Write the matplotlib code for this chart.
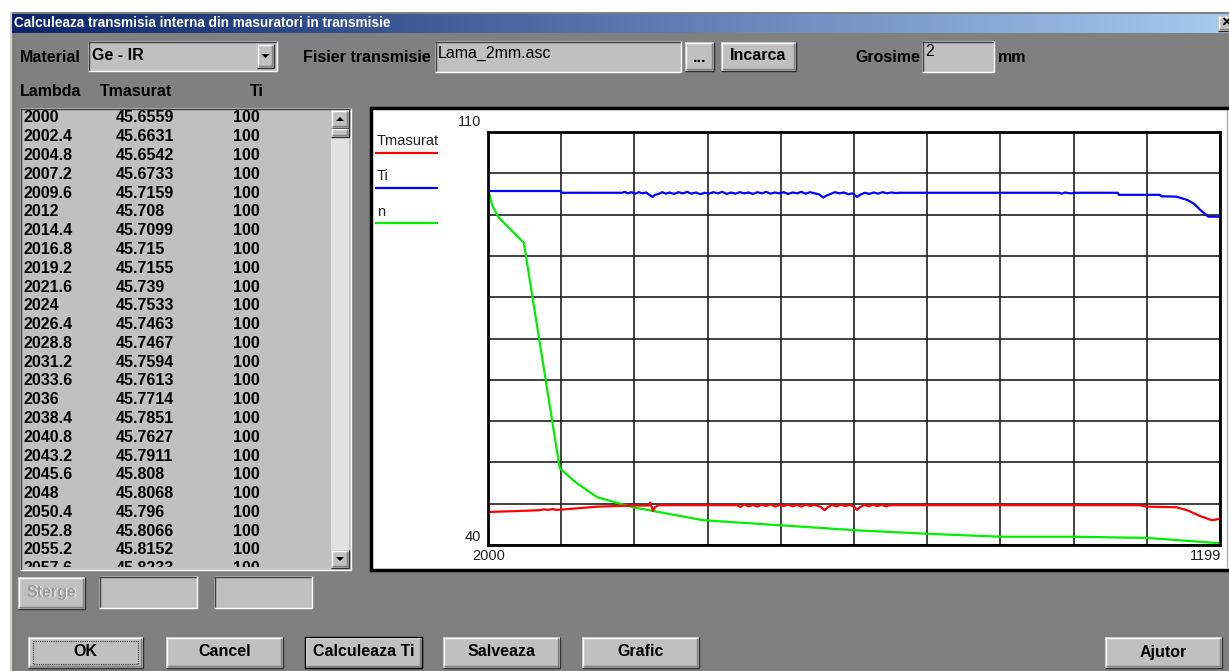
import numpy as np
import matplotlib.pyplot as plt
from matplotlib.patches import Rectangle, Polygon
from matplotlib.colors import LinearSegmentedColormap

W, H = 1229, 671
FONT = ['Liberation Sans', 'DejaVu Sans']

# list box contents (as shown in the dialog)
lambda_rows = ['2000', '2002.4', '2004.8', '2007.2', '2009.6', '2012', '2014.4',
               '2016.8', '2019.2', '2021.6', '2024', '2026.4', '2028.8', '2031.2',
               '2033.6', '2036', '2038.4', '2040.8', '2043.2', '2045.6', '2048',
               '2050.4', '2052.8', '2055.2', '2057.6']
tmas_rows = ['45.6559', '45.6631', '45.6542', '45.6733', '45.7159', '45.708', '45.7099',
             '45.715', '45.7155', '45.739', '45.7533', '45.7463', '45.7467', '45.7594',
             '45.7613', '45.7714', '45.7851', '45.7627', '45.7911', '45.808', '45.8068',
             '45.796', '45.8066', '45.8152', '45.8233']
ti_rows = ['100', '100', '100', '100', '100', '100', '100', '100', '100', '100', '100',
           '100', '100', '100', '100', '100', '100', '100', '100', '100', '100', '100',
           '100', '100', '100']

# chart series
tm_lam = [2000, 2400, 2700, 2760, 2820, 2880, 2940, 3000, 3500, 4000, 4200, 4215, 4240,
          4254, 4280, 4330, 5400, 5450, 5500, 5560, 5620, 5680, 5740, 5800, 5860, 5920,
          5980, 6040, 6100, 6160, 6220, 6280, 6340, 6400, 6460, 6540, 6600, 6640, 6700,
          6760, 6820, 6880, 6940, 7000, 7040, 7080, 7140, 7200, 7260, 7320, 7380, 7440,
          7490, 10900, 11000, 11400, 11550, 11730, 11890, 12000]
tm_val = [45.6, 45.75, 45.9, 46.05, 45.95, 46.1, 45.95, 46.0, 46.5, 46.7, 46.7, 47.2, 46.3,
          45.8, 46.4, 46.75, 46.75, 46.45, 46.9, 46.55, 46.8, 46.5, 46.85, 46.6, 46.9, 46.5,
          46.8, 46.6, 46.85, 46.55, 46.8, 46.5, 46.85, 46.6, 46.8, 46.5, 45.9, 46.4, 46.8,
          46.55, 46.85, 46.6, 46.8, 46.5, 45.95, 46.4, 46.8, 46.55, 46.85, 46.6, 46.8, 46.55,
          46.75, 46.75, 46.5, 46.4, 45.9, 44.9, 44.2, 44.45]

ti_lam = [2000, 2990, 3010, 3830, 3870, 3910, 3960, 4010, 4060, 4110, 4160, 4210, 4250,
          4280, 4330, 4380, 4430, 4480, 4540, 4600, 4660, 4720, 4780, 4840, 4900, 4960,
          5020, 5080, 5140, 5200, 5260, 5320, 5380, 5440, 5500, 5560, 5620, 5680, 5740,
          5800, 5860, 5920, 5980, 6040, 6100, 6160, 6220, 6280, 6340, 6400, 6460, 6520,
          6580, 6620, 6680, 6740, 6800, 6860, 6920, 6980, 7040, 7090, 7150, 7210, 7270,
          7330, 7390, 7450, 7510, 7570, 7620, 9800, 9840, 9880, 9960, 10020, 10600, 10620,
          11180, 11200, 11400, 11550, 11650, 11730, 11840, 12000]
ti_val = [100.0, 100.0, 99.7, 99.7, 99.85, 99.6, 99.8, 99.55, 99.8, 99.6, 99.75, 99.3, 99.0,
          99.35, 99.5, 99.8, 99.55, 99.75, 99.5, 99.8, 99.6, 99.85, 99.55, 99.75, 99.45, 99.7,
          99.55, 99.8, 99.6, 99.85, 99.5, 99.75, 99.55, 99.8, 99.6, 99.75, 99.5, 99.8, 99.6,
          99.85, 99.55, 99.75, 99.6, 99.8, 99.5, 99.75, 99.6, 99.85, 99.55, 99.8, 99.6, 99.45,
          98.9, 99.2, 99.5, 99.8, 99.6, 99.75, 99.45, 99.6, 99.0, 99.4, 99.7, 99.5, 99.75,
          99.55, 99.8, 99.6, 99.75, 99.65, 99.7, 99.7, 99.55, 99.75, 99.6, 99.7, 99.7, 99.35,
          99.35, 99.1, 99.05, 98.5, 97.8, 96.8, 95.65, 95.65]

n_lam = [2000, 2060, 2140, 2490, 2980, 3190, 3490, 3980, 4940, 6540, 7010, 8010, 9010,
         10000, 11000, 12000]
n_val = [100.2, 97.5, 95.6, 91.2, 53.0, 50.7, 48.1, 46.4, 44.2, 42.9, 42.5, 41.9, 41.4,
         41.4, 41.2, 40.3]

fig = plt.figure(figsize=(W / 100, H / 100), dpi=100)
fig.patch.set_facecolor('white')
bg = fig.add_axes([0, 0, 1, 1])
bg.axis('off')


def rect(x0, y0, x1, y1, fc, ec='none', lw=0, z=1, ls='-'):
    p = Rectangle((x0, y0), x1 - x0, y1 - y0, facecolor=fc, edgecolor=ec,
                  linewidth=lw, zorder=z, linestyle=ls)
    bg.add_patch(p)
    return p


def line(xs, ys, c, lw=1.0, z=3):
    bg.plot(xs, ys, color=c, lw=lw, zorder=z, solid_capstyle='butt')


def raised(x0, y0, x1, y1, z=2):
    rect(x0, y0, x1, y1, '#c0c0c0', z=z)
    line([x0, x1], [y0 + 0.5, y0 + 0.5], 'white', z=z + 1)
    line([x0 + 0.5, x0 + 0.5], [y0, y1], 'white', z=z + 1)
    line([x0, x1], [y1 - 0.5, y1 - 0.5], '#303030', z=z + 1)
    line([x1 - 0.5, x1 - 0.5], [y0, y1], '#303030', z=z + 1)
    line([x0 + 1, x1 - 1], [y1 - 1.8, y1 - 1.8], '#808080', z=z + 1)
    line([x1 - 1.8, x1 - 1.8], [y0 + 1, y1 - 1], '#808080', z=z + 1)


def sunken(x0, y0, x1, y1, z=2):
    rect(x0, y0, x1, y1, '#c0c0c0', z=z)
    line([x0, x1], [y0 + 0.5, y0 + 0.5], '#404040', z=z + 1)
    line([x0 + 0.5, x0 + 0.5], [y0, y1], '#404040', z=z + 1)
    line([x0, x1], [y1 - 0.5, y1 - 0.5], 'white', z=z + 1)
    line([x1 - 0.5, x1 - 0.5], [y0, y1], 'white', z=z + 1)


def label(x, y, s, size=11.5, ha='left', color='black', weight='bold', z=5, **kw):
    return bg.text(x, y, s, fontsize=size, fontweight=weight, family=FONT, ha=ha,
                   va='center', color=color, zorder=z, **kw)


def arrow(cx, cy, up):
    d = -1 if up else 1
    bg.add_patch(Polygon([[cx - 4, cy - 2 * d], [cx + 4, cy - 2 * d], [cx, cy + 2 * d]],
                         closed=True, facecolor='black', edgecolor='none', zorder=6))


# dialog background and title bar
rect(10, 12, W, H, '#808080', z=0)
line([11, 11], [12, H], '#d4d0c8', lw=1.5, z=1)
grad = LinearSegmentedColormap.from_list('tb', ['#0a246a', '#a6caf0'])
bg.imshow(np.linspace(0, 1, 256).reshape(1, -1), cmap=grad, aspect='auto',
          extent=(12, W, 33, 14), zorder=1)
label(14, 23, 'Calculeaza transmisia interna din masuratori in transmisie',
      size=9.8, color='white')
raised(1218, 16, 1232, 31)
label(1221, 23, '×', size=12, color='black')

# top row of controls
label(20, 57, 'Material')
sunken(88, 41, 277, 71)
label(92, 55, 'Ge - IR')
raised(257, 44, 274, 68)
arrow(265.5, 56, False)
label(303, 57, 'Fisier transmisie')
sunken(435, 41, 681, 72)
label(438, 53, 'Lama_2mm.asc', weight='normal', size=11.5)
raised(685, 42, 714, 71)
label(699.5, 57, '...', ha='center')
raised(721, 42, 796, 71)
label(758.5, 56, 'Incarca', ha='center')
label(855, 57, 'Grosime')
sunken(922, 41, 994, 72)
label(925, 52, '2', weight='normal')
label(998, 58, 'mm')

# list box
label(20, 92, 'Lambda')
label(100, 92, 'Tmasurat')
label(250, 92, 'Ti')
sunken(20, 108, 351, 570)
clip = rect(22, 110, 330, 567, 'none', z=0)
for i, (lam, tm, ti) in enumerate(zip(lambda_rows, tmas_rows, ti_rows)):
    y = 118 + 18.78 * i
    for x, s in ((23, lam), (116, tm), (233, ti)):
        t = label(x, y, s, size=11.5, clip_on=True)
        t.set_clip_path(clip)
rect(331, 110, 349, 568, '#e2e2e2', z=2)
raised(331, 110, 349, 128, z=3)
arrow(340, 119, True)
raised(331, 128, 349, 137, z=3)
raised(331, 550, 349, 568, z=3)
arrow(340, 559, False)

# buttons under the list
raised(18, 577, 85, 609)
label(52, 593, 'Sterge', ha='center', color='white', size=11.5)
label(51, 592, 'Sterge', ha='center', color='#9a9a9a', size=11.5, z=6)
sunken(99, 576, 197, 608)
sunken(214, 576, 312, 608)

# bottom buttons
for x0, x1, s in ((28, 143, 'OK'), (166, 283, 'Cancel'), (305, 422, 'Calculeaza Ti'),
                  (443, 560, 'Salveaza'), (582, 699, 'Grafic'), (1105, 1222, 'Ajutor')):
    raised(x0, 637, x1, 668)
    label((x0 + x1) / 2, 652, s, ha='center')
rect(305, 637, 422, 668, 'none', ec='black', lw=1.0, z=4)
rect(33, 641, 138, 664, 'none', ec='#303030', lw=0.8, z=4, ls=(0, (1, 1)))

# chart panel
rect(371, 108, W + 5, 570, 'white', ec='black', lw=2.5, z=1)
line([1227, 1227], [110, 567], '#b0b0b0', z=2)
legend = (('Tmasurat', 'red', 141, 153), ('Ti', 'blue', 176, 188), ('n', '#00ee00', 212, 223))
for name, c, ty, ly in legend:
    label(377, ty, name, size=10.5, weight='normal', color='#202020')
    line([375, 438], [ly, ly], c, lw=1.6)
label(481, 122, '110', size=10.5, weight='normal', ha='right', color='#202020')
label(481, 537, '40', size=10.5, weight='normal', ha='right', color='#202020')
label(472, 556, '2000', size=10.5, weight='normal', color='#202020')
label(1190, 556, '1199', size=10.5, weight='normal', color='#202020')

bg.set_xlim(0, W)
bg.set_ylim(H, 0)

ax = fig.add_axes([488 / W, 1 - 545 / H, 732 / W, 413 / H])
ax.set_xlim(2000, 12000)
ax.set_ylim(40, 110)
ax.set_xticks(np.linspace(2000, 12000, 11))
ax.set_yticks(np.arange(40, 111, 7))
ax.grid(color='#202020', lw=1.2)
ax.tick_params(length=0, labelbottom=False, labelleft=False)
for sp in ax.spines.values():
    sp.set_linewidth(2)
    sp.set_color('black')
ax.plot(n_lam, n_val, color='#00ee00', lw=1.6)
ax.plot(tm_lam, tm_val, color='red', lw=1.6)
ax.plot(ti_lam, ti_val, color='blue', lw=1.6)

fig.savefig('out.png', dpi=100)
